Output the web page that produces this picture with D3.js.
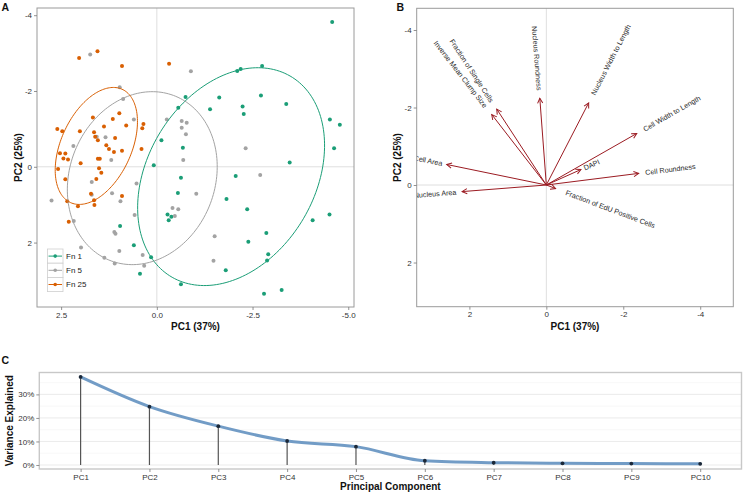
<!DOCTYPE html>
<html><head><meta charset="utf-8">
<script src="https://cdn.jsdelivr.net/npm/d3@7"></script>
<style>
body{margin:0;background:#fff;}
text{font-family:"Liberation Sans",Arial,Helvetica,sans-serif;}
</style>
</head><body>
<svg id="chart" width="743" height="495"></svg>
<script>
// ---------------- DATA ----------------
// Panel A: PCA scores (PC1, PC2) by group
const groups = ["Fn 1", "Fn 5", "Fn 25"];
const groupColors = ["#1b9e77", "#a3a3a3", "#d95f02"];
const scoresFn1 = [[-4.58,-3.82],[-2.10,-2.53],[-2.19,-2.58],[-2.75,-2.66],[-0.75,-1.84],[-1.63,-1.83],[-2.72,-1.88],[-0.56,-1.56],[-1.39,-1.52],[-2.24,-1.59],[-2.27,-1.39],[-3.38,-1.66],[-4.52,-1.25],[-4.78,-1.11],[-0.12,-0.70],[-0.68,-0.50],[-4.63,-0.49],[0.08,-0.04],[-0.63,0.29],[-0.55,0.69],[-2.06,0.24],[-3.47,-0.11],[-1.82,0.85],[-2.36,1.12],[-4.51,1.26],[-4.07,1.41],[-0.28,1.26],[-0.31,1.41],[-0.38,1.32],[0.96,1.56],[-2.86,1.75],[-2.39,1.98],[0.60,2.07],[0.15,2.39],[-2.91,2.31],[-2.88,2.47],[-1.80,2.73],[0.44,2.82],[-0.63,3.10],[-2.80,3.35],[-3.26,3.25]];
const scoresFn5 = [[1.74,-2.96],[-0.89,-2.52],[0.97,-2.10],[0.88,-1.79],[0.60,-1.25],[-0.26,-1.25],[-0.65,-1.21],[-0.78,-1.16],[-0.65,-1.03],[-0.76,-0.86],[-2.32,-0.49],[2.18,-0.55],[1.57,-0.79],[1.34,-0.78],[-0.69,-0.18],[1.19,-0.18],[1.70,0.40],[0.53,0.44],[1.17,0.70],[1.70,0.74],[0.95,0.91],[2.75,0.89],[2.17,1.43],[0.58,1.27],[-0.41,1.09],[-0.56,1.12],[-0.47,1.30],[-1.03,0.71],[-2.70,0.22],[-1.51,1.83],[1.11,1.72],[1.08,1.77],[1.98,2.13],[0.98,2.22],[1.37,2.40],[1.10,2.55],[0.37,2.33],[0.33,2.61],[-1.48,2.48]];
const scoresFn25 = [[2.03,-2.87],[1.55,-3.05],[0.91,-2.66],[-0.32,-2.72],[1.67,-1.30],[0.98,-1.41],[1.15,-1.26],[2.60,-1.00],[2.47,-0.94],[2.01,-0.94],[1.64,-0.91],[1.38,-1.06],[0.80,-1.09],[0.35,-1.13],[0.38,-1.02],[1.61,-0.79],[1.54,-0.70],[1.09,-0.76],[1.32,-0.57],[1.25,-0.47],[1.12,-0.39],[0.91,-0.42],[0.40,-0.47],[2.53,-0.36],[2.39,-0.35],[2.44,-0.22],[2.32,-0.19],[1.54,-0.21],[1.49,-0.21],[2.58,0.06],[1.99,-0.09],[1.51,0.04],[1.45,0.16],[1.58,0.32],[2.39,0.33],[1.72,0.71],[2.34,0.91],[2.06,1.04],[1.64,0.88],[1.63,1.01],[0.91,0.77],[2.30,1.45]];
// Ellipses per group: [centre PC1, centre PC2, semi-major, semi-minor, angle deg]
const ellipseFn1 = [-1.94, 0.26, 3.07, 2.19, 59.9];
const ellipseFn5 = [0.38, 0.30, 2.33, 1.90, 69.6];
const ellipseFn25 = [1.58, -0.55, 1.64, 0.92, 65.9];

const pcaXTicks = [2.5, 0, -2.5, -5];
const pcaXTickLabels = ["2.5", "0.0", "-2.5", "-5.0"];
const pcaYTicks = [-4, -2, 0, 2];
const pcaYTickLabels = ["-4", "-2", "0", "2"];

// Panel B: loadings
const loadingNames = ["Nucleus Roundness","Fraction of Single Cells","Inverse Mean Clump Size","Nucleus Width to Length","Cell Width to Length","Cell Area","Nucleus Area","DAPI","Cell Roundness","Fraction of EdU Positive Cells"];
const loadingPC1 = [0.17, 1.29, 1.42, -1.10, -2.35, 2.59, 2.19, -0.90, -2.40, -0.24];
const loadingPC2 = [-2.24, -1.96, -1.82, -2.12, -1.33, -0.53, 0.17, -0.40, -0.30, 0.09];
const biXTicks = [2, 0, -2, -4];
const biYTicks = [-4, -2, 0, 2];

// Panel C: scree
const components = ["PC1","PC2","PC3","PC4","PC5","PC6","PC7","PC8","PC9","PC10"];
const varianceExplained = [37.4, 24.8, 16.5, 10.2, 7.8, 1.8, 1.0, 0.7, 0.6, 0.5];
const screeYTicks = [0, 10, 20, 30];
const screeYTickLabels = ["0%", "10%", "20%", "30%"];
const screeMinorTicks = [5, 15, 25, 35];

// ---------------- DRAW ----------------
const svg = d3.select("#chart");
const tickColor = "#333";
const borderColor = "#9a9a9a";

function styleAxis(g){
  g.select(".domain").remove();
  g.selectAll(".tick line").attr("stroke", "#777").attr("stroke-width", 0.8);
  g.selectAll(".tick text").attr("fill", tickColor).attr("font-size", "8px").attr("font-family", "Liberation Sans, Arial, sans-serif");
}

// ===== Panel A =====
const A = {l:37, t:8, r:354, b:307};
const xA = d3.scaleLinear().domain([3.13, -5.15]).range([A.l, A.r]);
const yA = d3.scaleLinear().domain([-4.19, 3.70]).range([A.t, A.b]);
svg.append("clipPath").attr("id","clipA").append("rect").attr("x",A.l).attr("y",A.t).attr("width",A.r-A.l).attr("height",A.b-A.t);
const gA = svg.append("g");
gA.append("rect").attr("x",A.l).attr("y",A.t).attr("width",A.r-A.l).attr("height",A.b-A.t).attr("fill","#fff");
gA.append("line").attr("x1",xA(0)).attr("x2",xA(0)).attr("y1",A.t).attr("y2",A.b).attr("stroke","#d6d6d6").attr("stroke-width",0.8);
gA.append("line").attr("x1",A.l).attr("x2",A.r).attr("y1",yA(0)).attr("y2",yA(0)).attr("stroke","#d6d6d6").attr("stroke-width",0.8);

const plotA = gA.append("g").attr("clip-path","url(#clipA)");
const allScores = [scoresFn1, scoresFn5, scoresFn25];
const allEllipses = [ellipseFn1, ellipseFn5, ellipseFn25];
allScores.forEach((pts, i) => {
  plotA.selectAll(null).data(pts).enter().append("circle")
    .attr("cx", d => xA(d[0])).attr("cy", d => yA(d[1])).attr("r", 2)
    .attr("fill", groupColors[i]);
});
function ellipsePoints(e){
  const [cx, cy, a, b, ang] = e;
  const r = ang * Math.PI / 180;
  return d3.range(0, 361, 2).map(deg => {
    const t = deg * Math.PI / 180;
    return [cx + a*Math.cos(t)*Math.cos(r) - b*Math.sin(t)*Math.sin(r),
            cy + a*Math.cos(t)*Math.sin(r) + b*Math.sin(t)*Math.cos(r)];
  });
}
const lineA = d3.line().x(d => xA(d[0])).y(d => yA(d[1]));
allEllipses.forEach((e, i) => {
  plotA.append("path").attr("d", lineA(ellipsePoints(e))).attr("fill","none")
    .attr("stroke", groupColors[i]).attr("stroke-width", 1);
});
gA.append("rect").attr("x",A.l).attr("y",A.t).attr("width",A.r-A.l).attr("height",A.b-A.t).attr("fill","none").attr("stroke",borderColor).attr("stroke-width",1);

gA.append("g").attr("transform",`translate(0,${A.b})`)
  .call(d3.axisBottom(xA).tickValues(pcaXTicks).tickSize(3).tickPadding(2).tickFormat((d,i)=>pcaXTickLabels[i]))
  .call(styleAxis);
gA.append("g").attr("transform",`translate(${A.l},0)`)
  .call(d3.axisLeft(yA).tickValues(pcaYTicks).tickSize(3).tickPadding(2).tickFormat((d,i)=>pcaYTickLabels[i]))
  .call(styleAxis);

// legend A
const legA = gA.append("g");
groups.forEach((g, i) => {
  const y0 = 249 + i*14.2;
  legA.append("rect").attr("x",47.5).attr("y",y0).attr("width",15.5).attr("height",14.2).attr("fill","#fff").attr("stroke","#cfcfcf").attr("stroke-width",0.8);
  legA.append("line").attr("x1",48.5).attr("x2",62).attr("y1",y0+7.1).attr("y2",y0+7.1).attr("stroke",groupColors[i]).attr("stroke-width",1);
  legA.append("circle").attr("cx",55.2).attr("cy",y0+7.1).attr("r",1.8).attr("fill",groupColors[i]);
  legA.append("text").attr("x",66).attr("y",y0+10).attr("font-size","8px").attr("fill","#222").text(g);
});

// titles A
svg.append("text").attr("x",(A.l+A.r)/2).attr("y",330).attr("text-anchor","middle").attr("font-size","10px").attr("font-weight","bold").attr("fill","#111").text("PC1 (37%)");
svg.append("text").attr("transform",`translate(21.5,${(A.t+A.b)/2}) rotate(-90)`).attr("text-anchor","middle").attr("font-size","10px").attr("font-weight","bold").attr("fill","#111").text("PC2 (25%)");
svg.append("text").attr("x",1.5).attr("y",10.5).attr("font-size","10.5px").attr("font-weight","bold").attr("fill","#111").text("A");

// ===== Panel B =====
const B = {l:416.7, t:8.3, r:733.3, b:306.7};
const xB = d3.scaleLinear().domain([3.37, -4.86]).range([B.l, B.r]);
const yB = d3.scaleLinear().domain([-4.56, 3.14]).range([B.t, B.b]);
svg.append("clipPath").attr("id","clipB").append("rect").attr("x",B.l).attr("y",B.t).attr("width",B.r-B.l).attr("height",B.b-B.t);
const gB = svg.append("g");
gB.append("rect").attr("x",B.l).attr("y",B.t).attr("width",B.r-B.l).attr("height",B.b-B.t).attr("fill","#fff");
gB.append("line").attr("x1",xB(0)).attr("x2",xB(0)).attr("y1",B.t).attr("y2",B.b).attr("stroke","#d6d6d6").attr("stroke-width",0.8);
gB.append("line").attr("x1",B.l).attr("x2",B.r).attr("y1",yB(0)).attr("y2",yB(0)).attr("stroke","#d6d6d6").attr("stroke-width",0.8);

const arrowColor = "#9b1b22";
svg.append("defs").append("marker").attr("id","arrowB")
  .attr("viewBox","-6 -4 8 8").attr("refX",0).attr("refY",0)
  .attr("markerWidth",8).attr("markerHeight",8).attr("markerUnits","userSpaceOnUse").attr("orient","auto")
  .append("path").attr("d","M-5,-2.6L0,0L-5,2.6").attr("fill","none").attr("stroke",arrowColor).attr("stroke-width",1);

const plotB = gB.append("g").attr("clip-path","url(#clipB)");
loadingNames.forEach((name, i) => {
  const x1 = xB(loadingPC1[i]), y1 = yB(loadingPC2[i]);
  const x0 = xB(0), y0 = yB(0);
  plotB.append("line").attr("x1",x0).attr("y1",y0).attr("x2",x1).attr("y2",y1)
    .attr("stroke",arrowColor).attr("stroke-width",1).attr("marker-end","url(#arrowB)");
  const dx = x1 - x0, dy = y1 - y0;
  const len = Math.hypot(dx, dy);
  const ux = dx/len, uy = dy/len;
  const rightward = dx >= 0;
  const angle = rightward ? Math.atan2(dy, dx) : Math.atan2(-dy, -dx);
  const t = plotB.append("text").attr("font-size","7.2px").attr("fill","#2a2a2a")
    .attr("text-anchor", rightward ? "start" : "end").text(name);
  const w = t.node().getComputedTextLength();
  const gap = 0.1*w + 1.5;
  const px = x1 + ux*gap, py = y1 + uy*gap;
  const deg = angle*180/Math.PI;
  t.attr("transform", `translate(${px},${py}) rotate(${deg})`).attr("dy","0.35em");
});
gB.append("rect").attr("x",B.l).attr("y",B.t).attr("width",B.r-B.l).attr("height",B.b-B.t).attr("fill","none").attr("stroke",borderColor).attr("stroke-width",1);
gB.append("g").attr("transform",`translate(0,${B.b})`)
  .call(d3.axisBottom(xB).tickValues(biXTicks).tickSize(3).tickPadding(2).tickFormat(d => String(d)))
  .call(styleAxis);
gB.append("g").attr("transform",`translate(${B.l},0)`)
  .call(d3.axisLeft(yB).tickValues(biYTicks).tickSize(3).tickPadding(2).tickFormat(d => String(d)))
  .call(styleAxis);
svg.append("text").attr("x",(B.l+B.r)/2).attr("y",330).attr("text-anchor","middle").attr("font-size","10px").attr("font-weight","bold").attr("fill","#111").text("PC1 (37%)");
svg.append("text").attr("transform",`translate(401,${(B.t+B.b)/2}) rotate(-90)`).attr("text-anchor","middle").attr("font-size","10px").attr("font-weight","bold").attr("fill","#111").text("PC2 (25%)");
svg.append("text").attr("x",396.5).attr("y",10.5).attr("font-size","10.5px").attr("font-weight","bold").attr("fill","#111").text("B");

// ===== Panel C =====
const C = {l:39.3, t:372.5, r:741.5, b:469};
const xC = d3.scalePoint().domain(components).range([C.l, C.r]).padding(0.6);
const yC = d3.scaleLinear().domain([-1.7, 39.3]).range([C.b, C.t]);
const gC = svg.append("g");
gC.append("rect").attr("x",C.l).attr("y",C.t).attr("width",C.r-C.l).attr("height",C.b-C.t).attr("fill","#fff");
gC.selectAll(null).data(screeMinorTicks).enter().append("line")
  .attr("x1",C.l).attr("x2",C.r).attr("y1",d=>yC(d)).attr("y2",d=>yC(d)).attr("stroke","#f3f3f3").attr("stroke-width",0.6);
gC.selectAll(null).data(screeYTicks).enter().append("line")
  .attr("x1",C.l).attr("x2",C.r).attr("y1",d=>yC(d)).attr("y2",d=>yC(d)).attr("stroke","#e6e6e6").attr("stroke-width",0.8);
gC.selectAll(null).data(components).enter().append("line")
  .attr("x1",d=>xC(d)).attr("x2",d=>xC(d)).attr("y1",yC(0)).attr("y2",(d,i)=>yC(varianceExplained[i]))
  .attr("stroke","#555").attr("stroke-width",1.2);
const lineC = d3.line().x((d,i)=>xC(components[i])).y(d=>yC(d)).curve(d3.curveMonotoneX);
gC.append("path").attr("d", lineC(varianceExplained)).attr("fill","none")
  .attr("stroke","#6a97c3").attr("stroke-width",3).attr("stroke-opacity",0.95).attr("stroke-linecap","round");
gC.selectAll(null).data(varianceExplained).enter().append("circle")
  .attr("cx",(d,i)=>xC(components[i])).attr("cy",d=>yC(d)).attr("r",1.9).attr("fill","#1b2838");
gC.append("rect").attr("x",C.l).attr("y",C.t).attr("width",C.r-C.l).attr("height",C.b-C.t).attr("fill","none").attr("stroke","#c8c8c8").attr("stroke-width",1.4);
gC.append("g").attr("transform",`translate(0,${C.b})`)
  .call(d3.axisBottom(xC).tickSize(3).tickPadding(2))
  .call(styleAxis);
gC.append("g").attr("transform",`translate(${C.l},0)`)
  .call(d3.axisLeft(yC).tickValues(screeYTicks).tickSize(3).tickPadding(2).tickFormat((d,i)=>screeYTickLabels[i]))
  .call(styleAxis);
svg.append("text").attr("x",(C.l+C.r)/2).attr("y",490).attr("text-anchor","middle").attr("font-size","10px").attr("font-weight","bold").attr("fill","#111").text("Principal Component");
svg.append("text").attr("transform",`translate(13,${(C.t+C.b)/2}) rotate(-90)`).attr("text-anchor","middle").attr("font-size","10px").attr("font-weight","bold").attr("fill","#111").text("Variance Explained");
svg.append("text").attr("x",1.5).attr("y",363.5).attr("font-size","10.5px").attr("font-weight","bold").attr("fill","#111").text("C");
</script>
</body></html>
